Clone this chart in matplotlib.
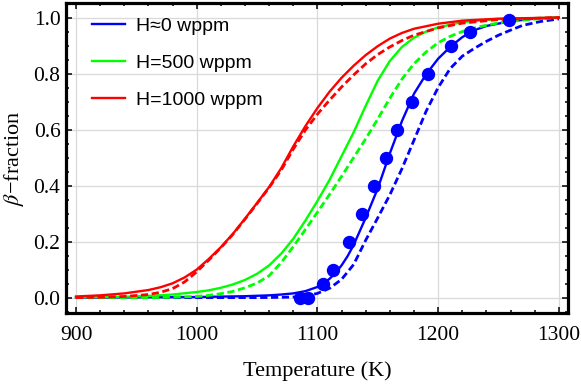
import matplotlib
matplotlib.use('agg')
import matplotlib.pyplot as plt
from matplotlib.ticker import MultipleLocator

plt.rcParams['font.family'] = ['Liberation Serif', 'DejaVu Serif']
plt.rcParams['mathtext.fontset'] = 'stix'

# values, Temperature (K) vs beta fraction
# H~0 wppm (blue)
blue_T = [900, 1000, 1040, 1060, 1070, 1080, 1090, 1100, 1105, 1110, 1115, 1120, 1125, 1130, 1140,
          1150, 1160, 1170, 1180, 1190, 1200, 1210, 1220, 1230, 1240, 1260, 1280, 1300]
blue_f = [0.0, 0.002, 0.005, 0.008, 0.011, 0.015, 0.023, 0.038, 0.05, 0.067, 0.088, 0.115, 0.148, 0.188, 0.285,
          0.39, 0.515, 0.63, 0.728, 0.797, 0.853, 0.895, 0.93, 0.955, 0.97, 0.987, 0.996, 1.0]
blue_dash_T = [900, 1050, 1070, 1080, 1090, 1100, 1110, 1120, 1130, 1140, 1150, 1160, 1170, 1180,
               1190, 1200, 1210, 1220, 1230, 1240, 1250, 1260, 1270, 1285, 1300]
blue_dash_f = [0.0, 0.0, 0.001, 0.002, 0.006, 0.015, 0.033, 0.065, 0.118, 0.205, 0.285, 0.367, 0.46, 0.562,
               0.665, 0.75, 0.818, 0.862, 0.89, 0.915, 0.937, 0.955, 0.972, 0.986, 0.995]

# H=500 wppm (green)
green_T = [900, 920, 940, 960, 980, 1000, 1010, 1020, 1030, 1040, 1050, 1060, 1070, 1080, 1090, 1100,
           1110, 1120, 1130, 1140, 1150, 1160, 1170, 1180, 1190, 1200, 1220, 1250, 1300]
green_f = [0.001, 0.002, 0.003, 0.006, 0.011, 0.02, 0.026, 0.035, 0.047, 0.063, 0.085, 0.115, 0.157, 0.21,
           0.275, 0.345, 0.42, 0.505, 0.59, 0.685, 0.775, 0.845, 0.895, 0.928, 0.95, 0.965, 0.984, 0.995, 1.0]
green_dash_T = [900, 960, 980, 1000, 1010, 1020, 1030, 1040, 1050, 1060, 1070, 1080, 1090, 1100, 1110,
                1120, 1130, 1140, 1150, 1160, 1170, 1180, 1190, 1200, 1210, 1220, 1235, 1250, 1275, 1300]
green_dash_f = [0.0, 0.0, 0.001, 0.004, 0.008, 0.014, 0.022, 0.035, 0.052, 0.078, 0.125, 0.182, 0.243,
                0.305, 0.368, 0.433, 0.5, 0.567, 0.638, 0.712, 0.78, 0.835, 0.877, 0.91, 0.933, 0.95,
                0.968, 0.981, 0.993, 1.0]

# H=1000 wppm (red)
red_T = [900, 920, 940, 960, 970, 980, 990, 1000, 1010, 1020, 1030, 1040, 1050, 1060, 1070, 1080,
         1090, 1100, 1110, 1120, 1130, 1140, 1150, 1160, 1170, 1180, 1200, 1220, 1250, 1300]
red_f = [0.004, 0.008, 0.015, 0.027, 0.037, 0.051, 0.072, 0.1, 0.138, 0.18, 0.228, 0.282, 0.338, 0.395,
         0.462, 0.54, 0.612, 0.677, 0.735, 0.785, 0.828, 0.866, 0.898, 0.925, 0.945, 0.96, 0.978, 0.989,
         0.996, 1.0]
red_dash_T = [900, 920, 940, 960, 970, 980, 990, 1000, 1010, 1020, 1030, 1040, 1050, 1060, 1070, 1080,
              1090, 1100, 1110, 1120, 1130, 1140, 1150, 1160, 1170, 1180, 1200, 1220, 1250, 1300]
red_dash_f = [0.0, 0.001, 0.004, 0.011, 0.019, 0.032, 0.056, 0.092, 0.134, 0.178, 0.226, 0.28, 0.336,
              0.393, 0.455, 0.53, 0.598, 0.655, 0.705, 0.752, 0.795, 0.835, 0.868, 0.895, 0.918, 0.937,
              0.963, 0.98, 0.993, 1.0]

# measured points
exp_T = [1085.6, 1092.5, 1104.9, 1113.2, 1126.2, 1136.7, 1147.1, 1156.8, 1166.2, 1178.1, 1191.4, 1210.4, 1226.4, 1258.5]
exp_f = [0.0, 0.0, 0.05, 0.1, 0.2, 0.3, 0.4, 0.5, 0.6, 0.7, 0.8, 0.9, 0.95, 0.99]

labels = ["H\u22480 wppm", "H=500 wppm", "H=1000 wppm"]
colors = ["#0000ff", "#00ff00", "#ff0000"]

fig = plt.figure(figsize=(5.81, 3.86), dpi=100)
ax = fig.add_axes([66/581, 1-313/386, (568-66)/581, (313-3)/386])

lw = 1.7
dash = (2.6, 1.3)
curves = [(blue_T, blue_f, blue_dash_T, blue_dash_f),
          (green_T, green_f, green_dash_T, green_dash_f),
          (red_T, red_f, red_dash_T, red_dash_f)]
handles = []
for (t, f, td, fd), c, l in zip(curves, colors, labels):
    h, = ax.plot(t, f, color=c, lw=lw, label=l, zorder=3, solid_joinstyle='round')
    ax.plot(td, fd, color=c, lw=lw + 0.3, dashes=dash, zorder=3)
    handles.append(h)
ax.plot(exp_T, exp_f, 'o', color="#0000ff", ms=8.6, zorder=4)

ax.set_xlim(891.7, 1307.6)
ax.set_ylim(-0.055, 1.052)
ax.xaxis.set_major_locator(MultipleLocator(100))
ax.xaxis.set_minor_locator(MultipleLocator(20))
ax.yaxis.set_minor_locator(MultipleLocator(0.05))
ax.set_yticks([0.0, 0.2, 0.4, 0.6, 0.8, 1.0])
ax.set_yticklabels(["0.0", "0.2", "0.4", "0.6", "0.8", "1.0"])
ax.grid(True, which='major', color='#d9d9d9', lw=0.9, zorder=0)
ax.tick_params(which='both', direction='in', top=True, right=True, labelsize=15.5, width=1.1)
ax.tick_params(which='major', length=4.5)
ax.tick_params(which='minor', length=2.5)
ax.tick_params(axis='x', pad=9)
ax.tick_params(axis='y', pad=4)
for s in ax.spines.values():
    s.set_linewidth(2.3)

ax.set_xlabel("Temperature (K)", fontsize=16, labelpad=12)
ax.set_ylabel("$\\beta$\u2212fraction", fontsize=16, labelpad=5.5)

leg = ax.legend(handles=handles, loc='upper left', bbox_to_anchor=(0.017, 1.01), frameon=False,
                prop={'family': ['Liberation Sans', 'DejaVu Sans'], 'size': 14},
                handlelength=1.7, handletextpad=0.55, labelspacing=1.0)

fig.savefig("out.png", dpi=100)
